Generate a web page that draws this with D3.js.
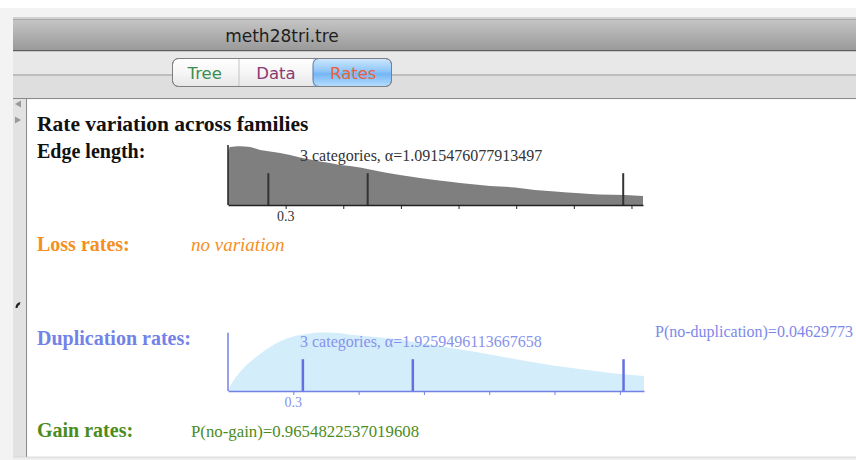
<!DOCTYPE html>
<html><head><meta charset="utf-8">
<script src="https://cdn.jsdelivr.net/npm/d3@7"></script>
<style>html,body{margin:0;padding:0;background:#fff;overflow:hidden}svg{display:block}</style>
</head><body>
<script>
// ---------- data ----------
const windowTitle = "meth28tri.tre";
const tabLabels = ["Tree", "Data", "Rates"];
const edgeAlphaLabel = "3 categories, \u03b1=1.0915476077913497";
const dupAlphaLabel = "3 categories, \u03b1=1.9259496113667658";
const dupZeroLabel = "P(no-duplication)=0.04629773";
const gainZeroLabel = "P(no-gain)=0.9654822537019608";
const lossLabel = "no variation";
// edge length density profile (rate, relative density)
const edgeX = [0,0.01,0.036,0.062,0.115,0.167,0.219,0.271,0.323,0.375,0.427,0.479,0.531,0.583,0.635,0.687,0.739,0.895,0.999,1.156,1.26,1.364,1.494,1.598,1.702,1.832,1.936,2.066,2.16];
const edgeD = [0.867,0.967,0.975,0.978,0.967,0.917,0.892,0.867,0.833,0.792,0.758,0.725,0.7,0.667,0.65,0.625,0.592,0.5,0.45,0.388,0.35,0.317,0.292,0.25,0.225,0.195,0.175,0.167,0.15];
const edgeCats = [0.21, 0.727, 2.057];
// duplication rate density profile
const dupX = [0,0.018,0.055,0.101,0.147,0.193,0.239,0.285,0.331,0.377,0.423,0.501,0.574,0.73,0.882,1.034,1.19,1.341,1.493,1.649,1.778,1.911];
const dupD = [0,0.133,0.317,0.483,0.617,0.733,0.825,0.892,0.933,0.958,0.975,0.967,0.933,0.883,0.8,0.712,0.617,0.517,0.425,0.35,0.292,0.25];
const dupCats = [0.344, 0.849, 1.817];
const edgeTicks = [0.3,0.6,0.9,1.2,1.5,1.8,2.1];
const dupTicks = [0.3,0.6,0.9,1.2,1.5,1.8];
const tickLabelShown = [0.3];

const W = 856, H = 460;
const svg = d3.select("body").append("svg").attr("width", W).attr("height", H);
const defs = svg.append("defs");
function grad(id, stops){
  const g = defs.append("linearGradient").attr("id", id).attr("x1",0).attr("y1",0).attr("x2",0).attr("y2",1);
  stops.forEach(s => g.append("stop").attr("offset", s[0]).attr("stop-color", s[1]));
}
grad("titleG", [[0,"#c6c6c6"],[1,"#989898"]]);
grad("tabG", [[0,"#ffffff"],[0.5,"#f6f6f6"],[1,"#e6e6e6"]]);
grad("rateG", [[0,"#cfe7fd"],[0.45,"#8fc6f8"],[0.55,"#74b6f5"],[1,"#b6ddfd"]]);

// ---------- window chrome ----------
svg.append("rect").attr("x",0).attr("y",8).attr("width",W).attr("height",H-8).attr("fill","#f3f3f3");
svg.append("rect").attr("x",13).attr("y",17).attr("width",W-13).attr("height",2).attr("fill","#d2d2d2");
svg.append("rect").attr("x",13).attr("y",19).attr("width",W-13).attr("height",32).attr("fill","url(#titleG)");
svg.append("rect").attr("x",13).attr("y",19).attr("width",W-13).attr("height",1).attr("fill","#a8a8a8");
svg.append("rect").attr("x",13).attr("y",50).attr("width",W-13).attr("height",1.5).attr("fill","#5e5e5e");
svg.append("rect").attr("x",13).attr("y",51.5).attr("width",W-13).attr("height",23).attr("fill","#e8e8e8");
svg.append("rect").attr("x",13).attr("y",74).attr("width",W-13).attr("height",2).attr("fill","#bdbdbd");
svg.append("rect").attr("x",13).attr("y",76).attr("width",W-13).attr("height",22).attr("fill","#dedede");
svg.append("rect").attr("x",13).attr("y",98).attr("width",W-13).attr("height",1.2).attr("fill","#8a8a8a");
// sidebar
svg.append("rect").attr("x",13).attr("y",99).attr("width",13).attr("height",358).attr("fill","#e2e2e2");
svg.append("rect").attr("x",26).attr("y",99).attr("width",1.2).attr("height",358).attr("fill","#8c8c8c");
// content
svg.append("rect").attr("x",27.2).attr("y",99.2).attr("width",W-27).attr("height",357.5).attr("fill","#ffffff");
svg.append("rect").attr("x",13).attr("y",456.7).attr("width",W-13).attr("height",1).attr("fill","#d0d0d0");
svg.append("rect").attr("x",13).attr("y",457.7).attr("width",W-13).attr("height",3).attr("fill","#eeeeee");
// sidebar glyphs
svg.append("path").attr("d","M15,104 L21,100.5 L21,107.5 Z").attr("fill","#9a9a9a");
svg.append("path").attr("d","M21,120 L15,116.5 L15,123.5 Z").attr("fill","#9a9a9a");
svg.append("path").attr("d","M15.5,308 Q15.5,303 20.5,302 L19.5,305 Q17.5,305.5 17.5,308 Z").attr("fill","#222");

// title
svg.append("text").attr("x",282).attr("y",42).attr("text-anchor","middle")
  .attr("font-family","DejaVu Sans, sans-serif").attr("font-size","17px").attr("fill","#1e1e1e").text(windowTitle);

// tabs
const tabEdges = [172.5, 239, 313, 391.5];
svg.append("rect").attr("x",172.5).attr("y",58.5).attr("width",219).attr("height",28).attr("rx",6)
  .attr("fill","url(#tabG)").attr("stroke","#8a8a8a");
const clip = defs.append("clipPath").attr("id","tabClip");
clip.append("rect").attr("x",172.5).attr("y",58.5).attr("width",219).attr("height",28).attr("rx",6);
svg.append("rect").attr("x",313).attr("y",58.5).attr("width",78.5).attr("height",28)
  .attr("fill","url(#rateG)").attr("clip-path","url(#tabClip)");
svg.append("rect").attr("x",313).attr("y",58.5).attr("width",78.5).attr("height",28).attr("rx",6)
  .attr("fill","none").attr("stroke","#5874b0").attr("clip-path","url(#tabClip)");
svg.append("rect").attr("x",172.5).attr("y",58.5).attr("width",219).attr("height",28).attr("rx",6)
  .attr("fill","none").attr("stroke","#7f7f7f");
svg.append("line").attr("x1",239).attr("x2",239).attr("y1",59).attr("y2",86).attr("stroke","#c4c4c4");
const tabColors = ["#3d8e4f","#8b3b72","#e8623c"];
tabLabels.forEach((t,i) => {
  svg.append("text").attr("x",(tabEdges[i]+tabEdges[i+1])/2 + (i===0?-1:i===2?1:0)).attr("y",78.5)
    .attr("text-anchor","middle").attr("font-family","DejaVu Sans, sans-serif").attr("font-size","16.5px")
    .attr("fill",tabColors[i]).text(t);
});

// ---------- content text ----------
const serif = "Liberation Serif, Times New Roman, serif";
function label(x,y,txt,size,color,weight,style){
  return svg.append("text").attr("x",x).attr("y",y).attr("font-family",serif).attr("font-size",size)
    .attr("font-weight",weight||"normal").attr("font-style",style||"normal").attr("fill",color).text(txt);
}
label(37,131,"Rate variation across families","21.5px","#111","bold");
label(37,158,"Edge length:","20px","#111","bold");
label(37,251,"Loss rates:","20px","#f5901f","bold");
label(191,251,lossLabel,"19px","#f5901f","normal","italic");
label(37,345,"Duplication rates:","20px","#7382e8","bold");
label(37,437,"Gain rates:","20px","#4b8c1d","bold");
label(191,437,gainZeroLabel,"16.8px","#4b8c1d");

function drawAxis(x, y0, ticks, color, textColor){
  const g = svg.append("g").attr("transform",`translate(0,${y0})`)
    .call(d3.axisBottom(x).tickValues(ticks).tickSize(4).tickSizeOuter(0).tickFormat(""));
  g.select(".domain").attr("stroke",color).attr("stroke-width",1.5);
  g.selectAll(".tick line").attr("stroke",color);
  tickLabelShown.forEach(v => {
    label(x(v), y0 + 16, d3.format(".1f")(v), "14px", textColor).attr("text-anchor","middle");
  });
}

// ---------- edge length chart ----------
const xE = d3.scaleLinear().domain([0, 2.16]).range([228, 643]);
const yE = d3.scaleLinear().domain([0, 1]).range([205, 145]);
const edgePts = edgeX.map((x,i)=>[x, edgeD[i]]);
svg.append("path").datum(edgePts)
  .attr("d", d3.area().x(d=>xE(d[0])).y0(yE(0)).y1(d=>yE(d[1])).curve(d3.curveMonotoneX))
  .attr("fill","#7f7f7f");
label(300,161,edgeAlphaLabel,"16px","#333");
edgeCats.forEach(c=>{
  svg.append("line").attr("x1",xE(c)).attr("x2",xE(c)).attr("y1",yE(0.53)).attr("y2",yE(0))
    .attr("stroke","#333").attr("stroke-width",2);
});
drawAxis(xE, yE(0), edgeTicks, "#222", "#333");
svg.append("line").attr("x1",xE(0)).attr("x2",xE(0)).attr("y1",yE(1)).attr("y2",yE(0))
  .attr("stroke","#222").attr("stroke-width",1.5);

// ---------- duplication chart ----------
const xD = d3.scaleLinear().domain([0, 1.911]).range([228, 644]);
const yD = d3.scaleLinear().domain([0, 1]).range([391, 331]);
const dupPts = dupX.map((x,i)=>[x, dupD[i]]);
svg.append("path").datum(dupPts)
  .attr("d", d3.area().x(d=>xD(d[0])).y0(yD(0)).y1(d=>yD(d[1])).curve(d3.curveMonotoneX))
  .attr("fill","#d3edfb");
label(300,347,dupAlphaLabel,"16px","#8792ec");
label(655,337,dupZeroLabel,"16px","#7c88ea");
dupCats.forEach(c=>{
  svg.append("line").attr("x1",xD(c)).attr("x2",xD(c)).attr("y1",yD(0.53)).attr("y2",yD(0))
    .attr("stroke","#6470e2").attr("stroke-width",2.5);
});
drawAxis(xD, yD(0), dupTicks, "#7480e6", "#8792ec");
svg.append("line").attr("x1",xD(0)).attr("x2",xD(0)).attr("y1",yD(0.97)).attr("y2",yD(0))
  .attr("stroke","#7480e6").attr("stroke-width",1.5);
</script>
</body></html>
